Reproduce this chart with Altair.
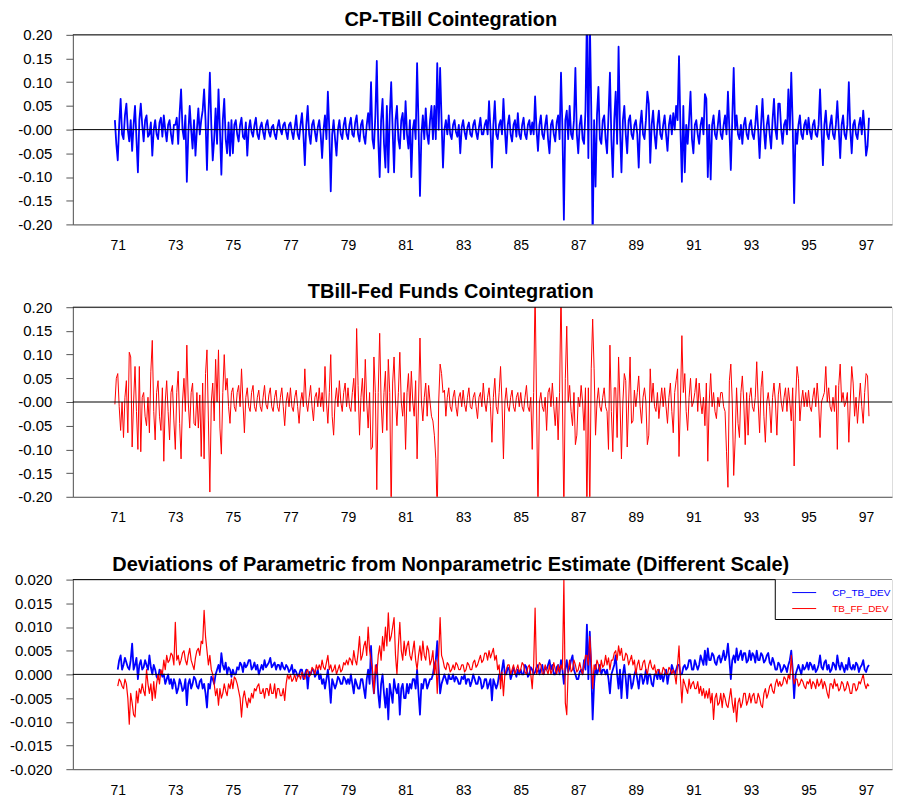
import altair as alt
import pandas as pd

FONT = "Liberation Sans"
W, H = 821, 190
X_DOMAIN = [69.44, 97.9]
tick_years = [71, 73, 75, 77, 79, 81, 83, 85, 87, 89, 91, 93, 95, 97]

titles = [
    "CP-TBill Cointegration",
    "TBill-Fed Funds Cointegration",
    "Deviations of Parametric from Nonparametric Estimate (Different Scale)",
]
legend_labels = ["CP_TB_DEV", "TB_FF_DEV"]
legend_colors = ["#0000ff", "#ff0000"]

y_ticks_top = [-0.20, -0.15, -0.10, -0.05, 0.0, 0.05, 0.10, 0.15, 0.20]
y_ticks_dev = [-0.020, -0.015, -0.010, -0.005, 0.0, 0.005, 0.010, 0.015, 0.020]

# time index: 70.90, 70.95, 71.00 ... 97.10 (steps of 0.05 year)
years = [round(70.9 + 0.05 * i, 2) for i in range(525)]

cp_tbill = [
    0.02, -0.03,
    -0.065, 0.01, 0.065, -0.01, -0.02, 0.03, 0.055, 0.0, -0.025, 0.02, -0.045, 0.01, 0.05, -0.02, -0.09, 0.02, 0.055, 0.01, -0.025, 0.02,
    0.03, -0.015, -0.01, 0.015, -0.055, 0.0, 0.02, -0.01, -0.02, 0.015, 0.025, -0.015, 0.03, 0.0, -0.025, 0.01, 0.02, -0.01, -0.03, 0.01,
    0.01, 0.025, -0.03, 0.035, 0.085, 0.0, -0.02, 0.03, -0.11, -0.01, 0.05, 0.0, -0.04, 0.02, -0.055, 0.0, 0.045, -0.01, 0.02, 0.04,
    0.085, 0.02, -0.085, 0.03, 0.12, 0.01, -0.065, -0.02, 0.045, -0.03, 0.085, 0.0, -0.095, 0.02, 0.065, -0.02, -0.05, 0.015, -0.055, 0.02,
    -0.05, 0.01, 0.02, -0.01, -0.025, 0.01, 0.025, -0.015, -0.02, 0.015, -0.055, 0.0, 0.02, -0.005, -0.015, 0.01, 0.025, -0.01, -0.02, 0.005,
    0.015, -0.005, -0.02, 0.01, 0.02, -0.005, -0.015, 0.005, 0.01, -0.01, -0.02, 0.005, 0.02, 0.0, -0.01, 0.01, 0.015, -0.005, -0.02, 0.01,
    0.015, -0.005, -0.02, 0.005, 0.03, -0.01, -0.02, 0.01, 0.035, -0.01, -0.075, 0.01, 0.05, -0.01, -0.03, 0.01, 0.02, -0.005, -0.025, 0.005,
    0.02, -0.01, -0.06, 0.0, 0.03, -0.02, 0.08, 0.0, -0.13, -0.01, 0.02, -0.02, -0.055, 0.0, 0.02, -0.01, -0.02, 0.01, 0.025, -0.01,
    -0.02, 0.01, 0.025, -0.01, -0.015, 0.015, 0.03, -0.01, -0.025, 0.01, 0.02, -0.015, -0.03, 0.01, 0.035, 0.0, 0.1, -0.02, -0.04, 0.03,
    0.145, -0.02, -0.1, 0.02, 0.065, -0.03, -0.08, 0.05, -0.09, 0.03, 0.1, 0.0, -0.09, 0.02, 0.05, -0.02, -0.04, 0.02, 0.035, -0.02,
    0.06, -0.01, -0.04, 0.02, -0.1, 0.0, 0.02, -0.02, 0.14, 0.01, -0.14, -0.01, 0.03, -0.02, 0.045, -0.01, -0.03, 0.02, 0.05, -0.02,
    0.05, -0.02, 0.14, 0.0, 0.13, 0.02, -0.08, 0.0, 0.02, -0.01, 0.03, -0.01, -0.02, 0.01, 0.02, -0.005, -0.015, 0.01, -0.05, 0.005,
    0.02, -0.005, -0.02, 0.005, 0.015, -0.01, -0.015, 0.01, 0.02, -0.005, -0.02, 0.005, 0.025, -0.01, -0.01, 0.01, 0.02, -0.01, 0.06, 0.0,
    -0.08, 0.01, 0.06, -0.01, -0.02, 0.01, 0.02, -0.01, 0.065, 0.0, -0.05, 0.01, 0.03, -0.01, -0.025, 0.01, 0.02, -0.015, 0.035, -0.01,
    -0.02, 0.01, 0.025, -0.01, -0.02, 0.01, 0.02, -0.01, 0.015, -0.01, 0.07, 0.0, -0.045, 0.01, 0.03, -0.01, -0.02, 0.01, 0.03, -0.02,
    -0.05, 0.01, 0.02, -0.01, -0.025, 0.015, 0.03, -0.02, 0.12, 0.0, -0.19, 0.02, 0.04, -0.02, 0.05, -0.01, -0.02, 0.02, 0.13, -0.01,
    -0.05, 0.01, 0.03, -0.02, -0.03, 0.04, 0.24, -0.06, 0.24, 0.05, -0.24, 0.02, -0.12, 0.03, 0.09, -0.02, -0.03, 0.02, 0.03, -0.02,
    -0.05, 0.03, 0.12, -0.02, -0.1, 0.02, 0.08, -0.03, 0.175, 0.0, -0.09, 0.02, 0.05, -0.01, -0.05, 0.02, 0.03, -0.01, -0.02, 0.01,
    0.02, -0.01, -0.08, 0.01, 0.04, -0.01, -0.02, 0.02, 0.08, 0.055, -0.07, 0.01, 0.04, -0.01, -0.04, 0.01, 0.04, -0.01, -0.02, 0.01,
    0.03, -0.01, -0.045, 0.01, 0.03, -0.01, 0.035, 0.0, 0.05, 0.02, 0.155, 0.0, -0.11, 0.05, -0.09, 0.01, -0.03, 0.02, 0.08, -0.02,
    -0.05, 0.01, 0.02, -0.01, -0.03, 0.01, 0.025, -0.01, 0.075, 0.065, -0.1, 0.01, -0.105, 0.01, 0.03, -0.01, -0.02, 0.01, 0.04, -0.01,
    -0.02, 0.01, 0.03, -0.01, 0.08, 0.0, -0.085, 0.02, 0.13, 0.0, 0.03, -0.01, -0.02, 0.01, -0.03, 0.01, 0.025, -0.01, -0.02, 0.01,
    0.02, -0.01, -0.02, 0.01, 0.05, 0.0, -0.06, 0.01, 0.065, 0.0, -0.04, 0.01, 0.03, -0.01, -0.04, 0.02, 0.065, 0.0, -0.02, 0.055,
    0.055, 0.0, -0.03, 0.01, 0.02, -0.01, 0.085, 0.0, 0.12, 0.01, -0.155, 0.0, -0.03, 0.01, 0.03, -0.01, -0.02, 0.01, 0.02, -0.01,
    0.025, -0.005, -0.02, 0.01, 0.02, -0.01, -0.015, 0.01, 0.085, 0.0, -0.075, 0.01, 0.04, -0.01, -0.02, 0.01, 0.03, -0.01, -0.02, 0.01,
    0.06, 0.0, -0.06, 0.01, 0.03, -0.01, -0.02, 0.01, 0.1, 0.0, -0.05, 0.01, 0.02, -0.01, -0.02, 0.01, 0.025, -0.01, 0.04, 0.0,
    -0.055, -0.035, 0.025,
]

tbill_ff = [
    -0.005, 0.05,
    0.06, -0.01, -0.06, 0.0, -0.075, 0.01, 0.045, -0.065, 0.105, 0.095, -0.095, 0.0, 0.075, -0.02, -0.1, 0.075, -0.105, 0.01, 0.02, -0.03,
    -0.05, 0.01, -0.065, 0.065, 0.13, -0.02, -0.08, 0.02, 0.045, -0.03, -0.06, 0.03, -0.125, 0.0, 0.045, -0.02, -0.08, 0.02, 0.035, -0.04,
    -0.1, 0.02, 0.065, -0.045, -0.12, 0.0, 0.05, -0.02, 0.12, 0.0, -0.055, 0.02, 0.04, -0.045, -0.05, 0.02, -0.055, 0.015, -0.115, 0.04,
    -0.12, 0.06, 0.11, -0.04, -0.19, 0.0, 0.04, -0.04, 0.09, 0.0, 0.11, -0.055, -0.11, 0.02, 0.1, 0.025, 0.05, -0.01, -0.045, 0.02,
    0.03, -0.01, -0.02, 0.02, 0.035, -0.01, 0.07, 0.0, -0.065, 0.01, 0.03, -0.01, -0.02, 0.02, 0.035, -0.01, -0.02, 0.01, 0.025, -0.01,
    -0.02, 0.01, 0.035, -0.005, -0.015, 0.015, 0.03, -0.01, -0.02, 0.01, 0.025, -0.01, -0.02, 0.01, 0.03, -0.01, -0.05, 0.0, 0.02, -0.01,
    0.03, -0.01, -0.02, 0.01, 0.025, -0.01, -0.045, 0.0, 0.02, -0.01, 0.07, 0.0, -0.02, 0.01, 0.035, -0.01, -0.04, 0.01, 0.02, -0.01,
    0.03, -0.01, 0.02, -0.02, 0.075, 0.0, -0.045, 0.02, 0.1, -0.03, -0.07, 0.0, 0.03, -0.01, 0.045, 0.0, -0.02, 0.02, 0.04, -0.01,
    0.03, -0.01, -0.02, 0.02, 0.05, -0.02, 0.155, 0.035, -0.07, 0.01, 0.05, -0.02, 0.09, 0.0, -0.055, 0.02, -0.1, -0.095, 0.095, 0.02,
    -0.185, 0.02, 0.145, 0.0, -0.065, 0.02, 0.065, -0.06, 0.09, 0.02, -0.24, 0.04, 0.095, 0.0, -0.05, 0.02, 0.105, 0.0, -0.03, 0.02,
    -0.1, 0.02, 0.06, -0.02, 0.065, 0.0, -0.03, 0.045, -0.12, 0.0, 0.135, 0.0, -0.04, 0.01, 0.04, -0.03, 0.035, 0.0, -0.03, -0.04,
    -0.07, -0.12, -0.24, 0.0, 0.08, 0.06, 0.02, 0.025, -0.03, 0.01, 0.03, -0.01, -0.02, 0.01, 0.025, -0.01, -0.03, 0.01, 0.02, -0.01,
    0.025, -0.005, -0.02, 0.01, 0.03, -0.01, -0.015, 0.01, 0.02, -0.01, -0.035, 0.01, 0.02, -0.01, 0.04, 0.0, -0.02, 0.01, 0.03, -0.01,
    -0.085, 0.01, 0.05, -0.01, -0.025, 0.02, 0.075, 0.0, -0.12, 0.0, 0.03, -0.01, -0.02, 0.01, 0.025, -0.01, -0.02, 0.01, 0.02, -0.01,
    0.02, -0.01, -0.02, 0.01, 0.035, -0.01, -0.02, 0.01, -0.1, 0.02, 0.24, 0.0, -0.24, 0.0, 0.02, -0.01, -0.02, 0.01, -0.06, 0.02,
    0.03, -0.01, 0.04, -0.01, -0.05, 0.01, -0.08, 0.02, 0.24, 0.0, -0.24, 0.05, 0.16, 0.0, 0.035, -0.02, -0.05, 0.02, -0.09, -0.07,
    0.01, -0.01, 0.035, 0.0, -0.06, 0.03, -0.24, 0.03, -0.24, 0.07, 0.175, 0.07, -0.07, 0.0, 0.03, -0.01, -0.02, 0.01, 0.03, -0.01,
    -0.02, -0.1, 0.12, -0.02, -0.105, 0.03, 0.03, -0.075, 0.095, 0.0, -0.12, 0.0, 0.06, 0.045, -0.095, 0.0, 0.095, -0.045, -0.04, 0.025,
    -0.01, 0.02, 0.055, -0.01, -0.045, 0.01, 0.03, 0.0, -0.09, -0.07, 0.07, 0.0, 0.04, -0.01, -0.02, 0.02, -0.035, 0.0, 0.03, -0.01,
    0.03, -0.01, -0.045, 0.01, 0.04, -0.02, -0.065, 0.02, 0.045, 0.07, -0.115, 0.0, 0.14, 0.02, 0.06, -0.02, -0.06, 0.01, 0.05, -0.01,
    0.0, 0.02, 0.05, -0.02, 0.04, 0.0, -0.025, 0.01, -0.05, 0.04, -0.125, 0.0, 0.06, -0.01, 0.02, -0.02, -0.035, 0.01, -0.01, 0.02,
    0.02, -0.01, -0.02, -0.105, -0.18, 0.045, 0.08, 0.0, -0.155, -0.08, 0.03, -0.045, -0.075, 0.02, 0.055, 0.0, -0.09, 0.02, -0.07, 0.01,
    0.03, -0.01, -0.02, 0.01, 0.085, 0.0, -0.065, 0.03, 0.065, -0.03, -0.085, 0.0, 0.02, -0.01, -0.065, 0.01, 0.04, 0.0, -0.07, 0.015,
    0.04, 0.0, -0.02, 0.01, 0.03, -0.02, 0.03, 0.0, -0.04, 0.03, -0.135, 0.0, 0.075, 0.05, -0.04, 0.0, 0.025, -0.01, 0.02, -0.01,
    0.025, -0.01, -0.02, 0.01, 0.03, -0.01, 0.04, 0.0, -0.075, 0.0, 0.01, 0.02, 0.075, 0.0, 0.03, -0.01, -0.02, 0.01, -0.02, 0.035,
    -0.1, 0.035, 0.08, 0.0, 0.02, -0.01, 0.0, 0.02, -0.085, 0.0, 0.075, 0.04, -0.03, 0.01, -0.045, 0.0, 0.04, -0.01, -0.045, 0.02,
    0.06, 0.055, -0.03,
]

# deviations start at 71.00
cp_tb_dev = [
    0.001, 0.003, 0.004, 0.001, 0.002, 0.0035, 0.0025, 0.0015, 0.001, 0.003, 0.0065, 0.001, 0.002, 0.0035, -0.001, 0.002, 0.003, 0.001, 0.0015, 0.003,
    0.002, 0.001, 0.004, 0.0015, 0.0, 0.002, 0.001, -0.0005, -0.001, 0.001, 0.0005, -0.0005, 0.0, -0.002, -0.001, 0.0, -0.002, -0.001, -0.003, -0.001,
    -0.002, -0.004, -0.003, -0.001, -0.002, -0.0035, -0.003, -0.001, -0.0065, -0.002, -0.001, -0.003, -0.002, -0.0005, -0.001, -0.0025, -0.003, -0.0015, -0.001, -0.003,
    -0.002, -0.004, -0.007, -0.002, -0.003, -0.0005, -0.001, -0.002, 0.0, 0.001, 0.002, 0.0005, 0.0045, 0.002, 0.001, 0.0025, 0.0, 0.0015, 0.001, -0.0005,
    0.001, 0.0, 0.0, 0.0015, 0.001, 0.0025, 0.002, 0.0005, 0.0025, 0.0015, 0.002, 0.003, 0.003, 0.001, 0.0015, 0.0025, 0.001, 0.002, 0.0, 0.001,
    0.002, 0.001, 0.003, 0.0015, 0.002, 0.0025, 0.0035, 0.0015, 0.002, 0.0025, 0.001, 0.002, 0.002, 0.001, 0.0025, 0.0015, 0.001, 0.002, 0.0015, 0.0005,
    0.001, 0.002, 0.0, 0.001, 0.0005, -0.0005, 0.0, 0.001, 0.001, -0.001, 0.0, 0.001, -0.003, 0.0005, 0.0, 0.001, 0.001, -0.0005, 0.0, 0.001,
    -0.001, 0.0, -0.002, -0.001, -0.003, -0.001, 0.001, -0.002, -0.006, -0.001, -0.002, -0.003, -0.002, -0.0005, -0.001, -0.002, -0.002, -0.0005, -0.001, -0.002,
    -0.001, -0.002, 0.0, -0.002, -0.004, -0.001, -0.002, -0.003, -0.003, -0.001, -0.001, -0.003, -0.005, -0.001, 0.001, -0.002, 0.006, -0.001, -0.004, 0.0,
    0.002, -0.004, -0.007, -0.002, 0.0, -0.004, -0.007, -0.003, -0.0095, -0.002, -0.004, -0.006, -0.001, -0.003, -0.004, -0.002, -0.0085, -0.003, -0.002, -0.005,
    -0.005, -0.002, -0.004, -0.002, -0.003, -0.001, -0.001, -0.003, 0.001, -0.004, -0.0085, -0.002, -0.003, -0.001, -0.001, -0.003, -0.002, -0.001, -0.001, 0.0,
    0.002, 0.003, 0.007, 0.001, -0.004, -0.002, -0.001, 0.0, -0.001, -0.002, 0.0, -0.001, -0.001, 0.0, -0.0015, -0.0005, -0.001, -0.002, -0.002, -0.0005,
    -0.001, 0.0, -0.002, -0.001, -0.001, -0.0025, -0.0015, 0.0, -0.001, -0.002, -0.002, -0.0005, -0.001, -0.003, -0.0025, -0.001, -0.001, -0.003, -0.002, -0.001,
    -0.0055, -0.001, -0.002, -0.003, -0.002, 0.0, -0.001, 0.001, 0.003, 0.0, 0.0, 0.0015, 0.001, -0.001, 0.0, 0.0015, 0.0005, -0.0005, 0.001, 0.0,
    0.001, 0.0, 0.0, 0.002, 0.0015, -0.0005, 0.0, 0.0015, 0.001, 0.0, 0.0005, 0.0015, 0.002, 0.0, 0.001, 0.002, 0.0, 0.0015, 0.001, 0.002,
    0.003, 0.001, 0.002, 0.0, 0.0, 0.0015, 0.002, 0.0, 0.003, 0.001, -0.002, 0.001, 0.003, 0.0005, 0.0015, 0.003, 0.004, 0.001, 0.0, -0.001,
    -0.001, 0.0005, 0.001, 0.0, 0.003, 0.001, 0.0105, -0.001, 0.009, 0.001, -0.0095, -0.002, 0.002, 0.0, 0.001, 0.002, 0.0, 0.001, 0.001, 0.0,
    0.001, -0.001, -0.004, 0.0, 0.001, 0.002, 0.004, 0.0, -0.003, 0.001, -0.005, 0.0, 0.002, -0.001, -0.005, 0.0, 0.0, -0.003, -0.002, 0.0,
    0.001, -0.001, -0.003, 0.0, 0.0, -0.002, -0.001, 0.001, -0.002, 0.0, 0.0, -0.002, -0.0025, 0.0, 0.0, -0.001, 0.001, -0.001, 0.0, -0.0015,
    0.0, 0.001, -0.002, 0.0, 0.0, 0.002, 0.001, 0.0, 0.001, 0.002, 0.002, 0.0, 0.0, 0.0015, 0.002, 0.001, 0.0015, 0.003, 0.003, 0.001,
    0.001, 0.003, 0.002, 0.001, 0.002, 0.004, 0.003, 0.002, 0.005, 0.002, 0.0055, 0.003, 0.003, 0.0045, 0.004, 0.0025, 0.002, 0.0035, 0.004, 0.0025,
    0.0035, 0.005, 0.003, 0.004, 0.0065, 0.003, -0.001, 0.003, 0.004, 0.0025, 0.0055, 0.003, 0.004, 0.005, 0.003, 0.0045, 0.0045, 0.0025, 0.003, 0.005,
    0.003, 0.0045, 0.004, 0.0025, 0.005, 0.003, 0.003, 0.0045, 0.004, 0.0025, 0.003, 0.004, 0.0045, 0.0025, 0.002, 0.0035, 0.0025, 0.001, 0.001, 0.0025,
    0.002, 0.0005, 0.001, 0.002, 0.0015, 0.0005, 0.002, 0.003, 0.005, 0.001, -0.005, 0.0, 0.001, 0.002, 0.001, 0.0, 0.002, 0.001, 0.0015, 0.0025,
    0.001, 0.0025, 0.002, 0.001, 0.002, 0.0005, 0.001, 0.002, 0.004, 0.0015, 0.001, 0.0025, 0.003, 0.001, 0.002, 0.0005, 0.001, 0.0025, 0.002, 0.001,
    0.004, 0.002, 0.001, 0.0025, 0.0015, 0.0005, 0.002, 0.001, 0.0035, 0.0015, 0.001, 0.002, 0.001, 0.0025, 0.002, 0.0005, 0.0015, 0.002, 0.003, 0.001,
    0.0005, 0.0015, 0.002,
]

tb_ff_dev = [
    -0.0025, -0.001, -0.0015, -0.0025, -0.003, -0.001, -0.002, -0.005, -0.0105, -0.004, -0.006, -0.0085, -0.009, -0.0035, -0.006, -0.003, -0.004, -0.002, -0.0035, -0.0045,
    0.001, -0.002, -0.004, -0.002, -0.0055, -0.0015, -0.005, -0.002, 0.0, -0.002, 0.001, 0.0, 0.003, 0.001, 0.004, 0.0025, 0.003, 0.0045, 0.004, 0.002,
    0.011, 0.003, 0.004, 0.002, 0.003, 0.0045, 0.005, 0.003, 0.002, 0.004, 0.0055, 0.003, 0.002, 0.001, 0.0035, 0.005, 0.0055, 0.004, 0.007, 0.0065,
    0.0135, 0.008, 0.005, 0.002, 0.004, 0.001, 0.0, -0.002, -0.0045, -0.003, -0.0065, -0.003, -0.005, -0.004, -0.002, -0.0035, -0.0045, -0.002, -0.003, -0.001,
    -0.003, -0.0005, -0.001, -0.002, -0.0035, -0.005, -0.009, -0.005, -0.0035, -0.0055, -0.007, -0.005, -0.006, -0.004, -0.005, -0.003, -0.0035, -0.0025, -0.002, -0.004,
    -0.004, -0.003, -0.005, -0.003, -0.003, -0.0045, -0.002, -0.004, -0.004, -0.002, -0.005, -0.003, -0.003, -0.0045, -0.0045, -0.003, -0.0055, -0.002, 0.0, -0.001,
    0.0, -0.0015, -0.001, 0.0, -0.0015, -0.0005, 0.0, -0.001, 0.0005, -0.0005, -0.001, 0.0005, 0.001, -0.0005, 0.0, 0.0015, 0.001, 0.0, 0.002, 0.001,
    0.002, 0.001, 0.003, 0.0015, 0.001, 0.0025, 0.004, 0.001, 0.002, 0.0005, 0.001, 0.002, 0.0, 0.001, 0.002, 0.0005, 0.001, 0.0025, 0.002, 0.003,
    0.002, 0.0035, 0.003, 0.002, 0.005, 0.003, 0.002, 0.0045, 0.008, 0.003, 0.004, 0.006, 0.007, 0.004, 0.01, 0.005, 0.003, 0.001, -0.004, 0.002,
    0.0, 0.004, 0.006, 0.003, 0.008, 0.005, 0.01, 0.006, 0.013, 0.007, 0.008, 0.01, 0.012, 0.004, 0.0, 0.006, 0.011, 0.005, 0.003, 0.007,
    0.004, 0.006, 0.007, 0.004, 0.003, 0.005, 0.007, 0.003, 0.001, 0.004, 0.006, 0.003, 0.007, 0.004, 0.003, 0.006, 0.005, 0.002, 0.003, 0.005,
    0.0, 0.003, -0.004, 0.004, 0.012, 0.004, 0.003, 0.0015, 0.001, 0.0025, 0.002, 0.0005, 0.001, 0.002, 0.001, 0.0025, 0.002, 0.001, 0.001, 0.002,
    0.002, 0.0005, 0.001, 0.0025, 0.002, 0.001, 0.001, 0.0025, 0.003, 0.0015, 0.002, 0.003, 0.004, 0.0025, 0.003, 0.0045, 0.0045, 0.003, 0.005, 0.0035,
    0.0045, 0.0055, 0.003, 0.004, 0.001, 0.002, -0.003, 0.0005, -0.0045, 0.0, 0.001, 0.002, 0.002, 0.0, 0.001, 0.002, 0.0, 0.001, 0.002, 0.0005,
    0.001, 0.0025, 0.002, 0.0005, 0.0, 0.0015, 0.002, 0.0, -0.003, 0.002, 0.014, 0.0, 0.001, 0.0025, 0.002, 0.0, 0.0, 0.002, 0.001, 0.0,
    0.002, 0.0, 0.001, 0.0025, 0.001, 0.0, 0.002, 0.0005, 0.002, 0.001, 0.02, -0.006, -0.0085, 0.001, 0.003, 0.0005, 0.001, 0.003, 0.002, 0.0005,
    0.001, 0.0025, 0.001, 0.0, 0.002, 0.004, 0.004, 0.002, 0.008, 0.003, -0.003, 0.002, 0.001, 0.003, 0.002, 0.0005, 0.003, 0.0015, 0.002, 0.004,
    0.002, 0.0035, 0.001, 0.003, 0.003, 0.0045, 0.005, 0.003, 0.006, 0.004, 0.0055, 0.003, 0.003, 0.0045, 0.004, 0.002, 0.003, 0.004, 0.002, 0.003,
    0.0, 0.002, 0.003, 0.001, 0.001, 0.0025, 0.003, 0.001, 0.0, 0.002, 0.003, 0.0015, 0.001, 0.002, 0.0, 0.001, 0.001, 0.0, 0.0, 0.0015,
    0.001, 0.0, 0.0, 0.0015, 0.001, 0.0, 0.001, 0.0, -0.002, 0.002, 0.006, -0.001, -0.006, -0.001, -0.002, -0.003, -0.004, -0.001, -0.003, -0.002,
    -0.0015, -0.003, -0.003, -0.0015, -0.004, -0.0025, -0.0045, -0.003, -0.005, -0.0035, -0.005, -0.003, -0.006, -0.004, -0.0095, -0.005, -0.004, -0.0065, -0.006, -0.004,
    -0.007, -0.004, -0.005, -0.0065, -0.007, -0.005, -0.003, -0.006, -0.008, -0.005, -0.01, -0.006, -0.005, -0.007, -0.006, -0.004, -0.004, -0.0065, -0.0055, -0.004,
    -0.006, -0.0045, -0.004, -0.006, -0.006, -0.004, -0.005, -0.0065, -0.007, -0.004, -0.003, -0.005, -0.004, -0.0025, -0.002, -0.0035, -0.004, -0.002, -0.001, -0.0025,
    -0.0015, -0.0025, -0.002, -0.0005, -0.001, -0.002, 0.0, -0.001, 0.004, 0.0, -0.002, -0.001, -0.001, -0.0025, -0.002, -0.001, -0.0015, -0.0025, -0.003, -0.0015,
    -0.002, -0.001, -0.003, -0.0015, -0.002, -0.003, -0.001, -0.0025, -0.002, -0.001, -0.003, -0.0015, -0.0025, -0.004, -0.005, -0.002, -0.002, -0.003, -0.001, -0.0025,
    -0.002, -0.0035, -0.003, -0.0015, -0.002, -0.0035, -0.003, -0.0015, -0.0025, -0.004, -0.004, -0.002, -0.002, -0.0035, -0.003, -0.0015, -0.002, -0.001, 0.0, -0.002,
    -0.003, -0.002, -0.0025,
]

assert len(cp_tbill) == 525, len(cp_tbill)
assert len(tbill_ff) == 525, len(tbill_ff)
assert len(cp_tb_dev) == 523, len(cp_tb_dev)
assert len(tb_ff_dev) == 523, len(tb_ff_dev)

df1 = pd.DataFrame({"year": years, "value": cp_tbill})
df2 = pd.DataFrame({"year": years, "value": tbill_ff})
df3b = pd.DataFrame({"year": years[2:], "value": cp_tb_dev})
df3r = pd.DataFrame({"year": years[2:], "value": tb_ff_dev})
dummy = pd.DataFrame({"a": [0]})
zero_df = pd.DataFrame({"value": [0.0]})

AXIS_GRAY = "#555555"


def x_enc():
    return alt.X(
        "year:Q",
        scale=alt.Scale(domain=X_DOMAIN, nice=False, zero=False),
        axis=alt.Axis(
            values=tick_years, format="d", title=None, grid=False, ticks=False,
            labelPadding=14, labelFontSize=14, labelFont=FONT, labelColor="black",
            domainColor=AXIS_GRAY, domainWidth=1, labelFlush=False,
        ),
    )


def y_enc(domain, values, fmt, zero_label):
    expr = (
        f"datum.value == 0 ? '{zero_label}' : (datum.value < 0 ? '-' + "
        f"format(-datum.value, '{fmt}') : format(datum.value, '{fmt}'))"
    )
    return alt.Y(
        "value:Q",
        scale=alt.Scale(domain=domain, nice=False, zero=False),
        axis=alt.Axis(
            values=values, labelExpr=expr, title=None, grid=False,
            tickSize=7, tickColor=AXIS_GRAY, domainColor=AXIS_GRAY, domainWidth=1,
            labelPadding=14, labelFontSize=15, labelFont=FONT, labelColor="black",
            minExtent=64, maxExtent=64, labelFlush=False,
        ),
    )


def title(t):
    return alt.TitleParams(
        t, fontSize=20, font=FONT, fontWeight="bold", color="black",
        anchor="middle", frame="bounds", offset=-2,
    )


def top_rule():
    return alt.Chart(dummy).mark_rule(color="black", strokeWidth=1).encode(
        x=alt.value(0), x2=alt.value(W), y=alt.value(0)
    )


def zero_rule(domain, values, fmt, zl):
    return alt.Chart(zero_df).mark_rule(color="black", strokeWidth=1).encode(
        y=y_enc(domain, values, fmt, zl)
    )


def series(df, color, width, domain, values, fmt, zl):
    return alt.Chart(df).mark_line(
        color=color, strokeWidth=width, clip=True, strokeJoin="round"
    ).encode(x=x_enc(), y=y_enc(domain, values, fmt, zl))


D1 = [-0.2, 0.2]
D3 = [-0.02, 0.02]

p1 = alt.layer(
    series(df1, "#0000ff", 1.8, D1, y_ticks_top, ".2f", "-0.00"),
    zero_rule(D1, y_ticks_top, ".2f", "-0.00"),
    top_rule(),
).properties(width=W, height=H, title=title(titles[0]))

p2 = alt.layer(
    series(df2, "#ff0000", 1.0, D1, y_ticks_top, ".2f", "-0.00"),
    zero_rule(D1, y_ticks_top, ".2f", "-0.00"),
    top_rule(),
).properties(width=W, height=H, title=title(titles[1]))

# legend box: open on the right side like the reference (runs off the edge)
leg_fill = alt.Chart(dummy).mark_rect(fill="white", strokeWidth=0).encode(
    x=alt.value(704), x2=alt.value(W), y=alt.value(0), y2=alt.value(40)
)
leg_left = alt.Chart(dummy).mark_rule(color="black", strokeWidth=1).encode(
    x=alt.value(704), y=alt.value(0), y2=alt.value(40)
)
leg_bottom = alt.Chart(dummy).mark_rule(color="black", strokeWidth=1).encode(
    x=alt.value(704), x2=alt.value(W), y=alt.value(40)
)
leg_items = []
for i, (lab, col) in enumerate(zip(legend_labels, legend_colors)):
    ypix = 13 + 16 * i
    leg_items.append(
        alt.Chart(dummy).mark_rule(color=col, strokeWidth=1).encode(
            x=alt.value(721), x2=alt.value(745), y=alt.value(ypix)
        )
    )
    leg_items.append(
        alt.Chart(pd.DataFrame({"t": [lab]})).mark_text(
            align="left", baseline="middle", fontSize=10, font=FONT, color=col
        ).encode(text="t:N", x=alt.value(761), y=alt.value(ypix))
    )

p3 = alt.layer(
    series(df3b, "#0000ff", 1.8, D3, y_ticks_dev, ".3f", "0.000"),
    series(df3r, "#ff0000", 1.2, D3, y_ticks_dev, ".3f", "0.000"),
    zero_rule(D3, y_ticks_dev, ".3f", "0.000"),
    top_rule(),
    leg_fill,
    leg_left,
    leg_bottom,
    *leg_items,
).properties(width=W, height=H, title=title(titles[2]))

chart = alt.vconcat(p1, p2, p3, spacing=28).properties(
    padding={"left": 0, "top": 0, "right": 0, "bottom": 0}
).configure_view(stroke=None).configure(background="white")

chart.save("out.html", embed_options={"renderer": "svg", "actions": False})
